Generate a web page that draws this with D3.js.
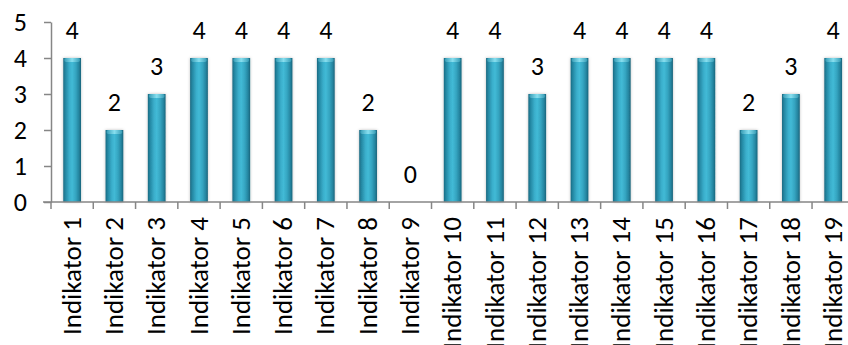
<!DOCTYPE html>
<html>
<head>
<meta charset="utf-8">
<script src="https://cdn.jsdelivr.net/npm/d3@7"></script>
<style>
html,body{margin:0;padding:0;background:#fff;}
svg{display:block;font-family:Carlito, Calibri, Lato, sans-serif;}
</style>
</head>
<body>
<svg id="chart" width="848" height="345"></svg>
<script>
const categories = ["Indikator 1","Indikator 2","Indikator 3","Indikator 4","Indikator 5","Indikator 6","Indikator 7","Indikator 8","Indikator 9","Indikator 10","Indikator 11","Indikator 12","Indikator 13","Indikator 14","Indikator 15","Indikator 16","Indikator 17","Indikator 18","Indikator 19"];
const values = [4,2,3,4,4,4,4,2,0,4,4,3,4,4,4,4,2,3,4];
const yTicks = [0,1,2,3,4,5];

(function(){
const svg = d3.select("#chart");
const mLeft = 51, mTop = 22, mBottom = 202, step = 42.28;
const mRight = mLeft + categories.length * step;
const fontFam = "Carlito, Calibri, Lato, sans-serif";

const x = d3.scaleBand().domain(categories).range([mLeft, mRight]).padding(0);
const y = d3.scaleLinear().domain([0,5]).range([mBottom, mTop]);
const barW = x.bandwidth() * 0.42;

const defs = svg.append("defs");
const g = defs.append("linearGradient").attr("id","cyl").attr("x1","0").attr("x2","1").attr("y1","0").attr("y2","0");
[[0,"#1a6a82"],[0.12,"#2487a2"],[0.35,"#3aaecb"],[0.5,"#42bad6"],[0.7,"#35a5c1"],[0.88,"#2585a0"],[1,"#19647b"]]
  .forEach(([o,c])=>g.append("stop").attr("offset",o).attr("stop-color",c));
const gc = defs.append("linearGradient").attr("id","cap").attr("x1","0").attr("x2","1").attr("y1","0").attr("y2","0");
[[0,"#3a9fb8"],[0.5,"#8fe3f2"],[1,"#3a9fb8"]]
  .forEach(([o,c])=>gc.append("stop").attr("offset",o).attr("stop-color",c));
const f = defs.append("filter").attr("id","sh").attr("x","-50%").attr("y","-10%").attr("width","200%").attr("height","130%");
f.append("feDropShadow").attr("dx",0).attr("dy",0).attr("stdDeviation",1.6).attr("flood-color","#000").attr("flood-opacity",0.25);

const data = categories.map((c,i)=>({c, v: values[i]}));

const bars = svg.append("g");
bars.selectAll("rect.bar").data(data.filter(d=>d.v>0)).join("rect")
  .attr("class","bar")
  .attr("x", d => x(d.c) + (x.bandwidth()-barW)/2)
  .attr("y", d => y(d.v))
  .attr("width", barW)
  .attr("height", d => y(0) - y(d.v))
  .attr("fill","url(#cyl)")
  .attr("filter","url(#sh)");
bars.selectAll("rect.cap").data(data.filter(d=>d.v>0)).join("rect")
  .attr("class","cap")
  .attr("x", d => x(d.c) + (x.bandwidth()-barW)/2 + 1)
  .attr("y", d => y(d.v))
  .attr("width", barW - 2)
  .attr("height", 4)
  .attr("rx", 2)
  .attr("fill","url(#cap)")
  .attr("opacity",0.9);

const yAxis = d3.axisLeft(y).tickValues(yTicks).tickFormat(d3.format("d")).tickSize(7).tickPadding(17).tickSizeOuter(0);
const ya = svg.append("g").attr("transform",`translate(${mLeft},0)`).call(yAxis);
ya.select(".domain").attr("stroke","#868686").attr("stroke-width",1.5);
ya.selectAll(".tick line").attr("stroke","#868686").attr("stroke-width",1.5);
ya.selectAll(".tick text").attr("font-size","26px").attr("fill","#000").attr("font-family",fontFam);

const xa = svg.append("g");
xa.append("line").attr("x1", mLeft-8).attr("x2", mRight).attr("y1", y(0)).attr("y2", y(0))
  .attr("stroke","#868686").attr("stroke-width",1.5);
const bounds = categories.map(c=>x(c)).concat([mRight]);
xa.selectAll("line.t").data(bounds).join("line").attr("class","t")
  .attr("x1", d=>d).attr("x2", d=>d).attr("y1", y(0)).attr("y2", y(0)+7)
  .attr("stroke","#868686").attr("stroke-width",1.5);
xa.selectAll("text").data(categories).join("text")
  .attr("transform", d => `translate(${x(d)+x.bandwidth()/2},217) rotate(-90)`)
  .attr("text-anchor","end")
  .attr("dy","0.32em")
  .attr("font-size","27px")
  .attr("fill","#000")
  .text(d=>d);

svg.append("g").selectAll("text").data(data).join("text")
  .attr("x", d => x(d.c) + x.bandwidth()/2)
  .attr("y", d => y(d.v) - 19)
  .attr("text-anchor","middle")
  .attr("font-size","26px")
  .attr("fill","#000")
  .text(d => d.v);
})();
</script>
</body>
</html>
